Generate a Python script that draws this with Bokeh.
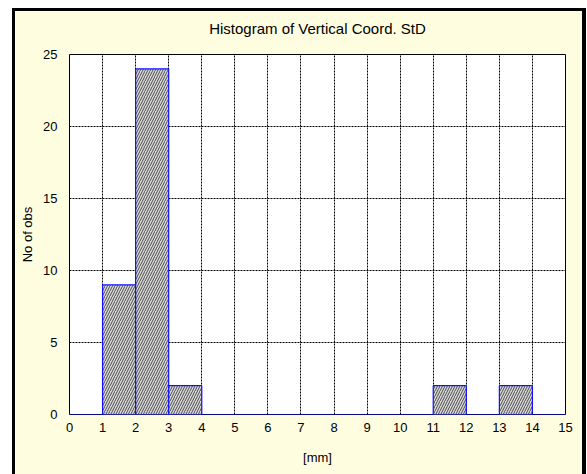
from bokeh.plotting import figure
from bokeh.models import ColumnDataSource, FixedTicker, Range1d, Title
from bokeh.embed import file_html
from bokeh.resources import INLINE

# Histogram of the vertical coordinate standard deviation, 1 mm bins
bin_edges = [0, 1, 2, 3, 4, 5, 6, 7, 8, 9, 10, 11, 12, 13, 14, 15]
counts = [0, 9, 24, 2, 0, 0, 0, 0, 0, 0, 0, 2, 0, 2, 0]
x_ticks = [0, 1, 2, 3, 4, 5, 6, 7, 8, 9, 10, 11, 12, 13, 14, 15]
y_ticks = [0, 5, 10, 15, 20, 25]

title_text = "Histogram of Vertical Coord. StD"
x_label = "[mm]"
y_label = "No of obs"

FONT = "'Liberation Sans', Arial, sans-serif"
PANEL = "#FFFDE0"

src = ColumnDataSource(dict(
    left=bin_edges[:-1],
    right=bin_edges[1:],
    top=counts,
    bottom=[0] * len(counts),
))

# Panel sits inside a black rule (left/top/right) on a white page
p = figure(
    width=567, height=463,
    output_backend="svg", toolbar_location=None,
    x_range=Range1d(bin_edges[0], bin_edges[-1]),
    y_range=Range1d(0, 25),
    min_border_left=54, min_border_right=24,
    min_border_top=43, min_border_bottom=63,
    border_fill_color=PANEL, background_fill_color="white",
    outline_line_color="black", outline_line_width=1,
)
p.margin = (8, 0, 0, 12)
p.styles = {
    "box-sizing": "content-box",
    "border-left": "3px solid black",
    "border-top": "3px solid black",
    "border-right": "4px solid black",
}

# Main title, kept clear of the plot area by an empty spacer row
p.title.text = title_text
p.title.align = "center"
p.title.vertical_align = "bottom"
p.title.text_font = FONT
p.title.text_font_size = "15px"
p.title.text_font_style = "normal"
p.title.text_color = "black"
p.title.standoff = 0
p.add_layout(Title(text=" ", text_font_size="1px", standoff=15), "above")

p.quad(left="left", right="right", top="top", bottom="bottom", source=src,
       fill_color="#dadada", line_color="#1010ff", line_width=1.2,
       hatch_pattern="/", hatch_color="#4a4a4a", hatch_scale=5,
       hatch_weight=1)

for ax in (p.xaxis[0], p.yaxis[0]):
    ax.major_tick_out = 0
    ax.major_tick_in = 0
    ax.minor_tick_out = 0
    ax.minor_tick_in = 0
    ax.axis_line_color = None
    ax.major_label_text_font = FONT
    ax.major_label_text_font_size = "13px"
    ax.major_label_text_color = "black"
    ax.axis_label_text_font = FONT
    ax.axis_label_text_font_size = "13px"
    ax.axis_label_text_font_style = "normal"
    ax.axis_label_text_color = "black"

p.xaxis.ticker = FixedTicker(ticks=x_ticks)
p.yaxis.ticker = FixedTicker(ticks=y_ticks)
p.xaxis.axis_label = x_label
p.yaxis.axis_label = y_label
p.xaxis.major_label_standoff = 8
p.yaxis.major_label_standoff = 12
p.xaxis.axis_label_standoff = 15
p.yaxis.axis_label_standoff = 5

p.xgrid.ticker = FixedTicker(ticks=x_ticks)
p.ygrid.ticker = FixedTicker(ticks=y_ticks)
for g in (p.xgrid[0], p.ygrid[0]):
    g.grid_line_color = "black"
    g.grid_line_dash = "2 1"
    g.grid_line_width = 1

open("out.html", "w").write(file_html(p, INLINE))
